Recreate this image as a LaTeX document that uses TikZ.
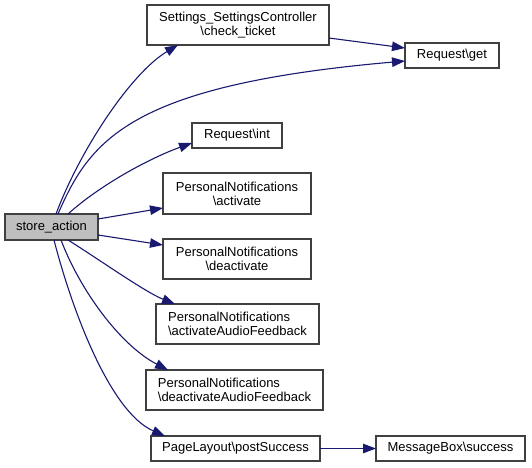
\documentclass[tikz,border=0pt]{standalone}
\usepackage{fontspec}
\setmainfont{Liberation Sans}
\usetikzlibrary{arrows.meta}
\definecolor{edgecol}{HTML}{191970}
\definecolor{boxline}{HTML}{404040}
\definecolor{rootfill}{HTML}{BFBFBF}
\begin{document}
\begin{tikzpicture}[x=1pt,y=1pt,
  box/.style={draw=boxline, line width=1.2pt, fill=white, inner sep=0pt, outer sep=0pt,
    font=\fontsize{13}{14.3}\selectfont, align=center},
  lbox/.style={box, align=left},
  edge/.style={draw=edgecol, line width=1.1pt, -{Triangle[length=13pt,width=9.5pt]}, fill=none},
]
\useasboundingbox (0,0) rectangle (532,-467);
\node[box, fill=rootfill, minimum width=93pt, minimum height=26pt] (store) at (51.5,-227) {store\_action};
\node[box, minimum width=182pt, minimum height=40pt] (settings) at (238,-25) {Settings\_SettingsController\\\textbackslash check\_ticket};
\node[box, minimum width=94pt, minimum height=25pt] (get) at (452,-55.5) {Request\textbackslash get};
\node[box, minimum width=90pt, minimum height=25pt] (int) at (237,-135.5) {Request\textbackslash int};
\node[box, minimum width=148pt, minimum height=41pt] (act) at (237,-193.5) {PersonalNotifications\\\textbackslash activate};
\node[box, minimum width=148pt, minimum height=40pt] (deact) at (237,-259) {PersonalNotifications\\\textbackslash deactivate};
\node[lbox, minimum width=163pt, minimum height=40pt] (actaudio) at (237.5,-324) {PersonalNotifications\\\textbackslash activateAudioFeedback};
\node[lbox, minimum width=177pt, minimum height=40pt] (deactaudio) at (234.5,-390) {PersonalNotifications\\\textbackslash deactivateAudioFeedback};
\node[box, minimum width=169pt, minimum height=25pt] (post) at (235.5,-448.5) {PageLayout\textbackslash postSuccess};
\node[box, minimum width=149pt, minimum height=25pt] (msg) at (450.5,-448.5) {MessageBox\textbackslash success};

\draw[edge] ([xshift=4.5pt]store.north) .. controls +(24,64) and +(-47,-28) .. ([xshift=-60pt]settings.south);
\draw[edge] ([xshift=6.5pt]store.north) .. controls +(32,74) and +(-275,-24) .. ([yshift=-5.5pt]get.west);
\draw[edge] ([xshift=16.5pt]store.north) .. controls +(32,29) and +(-42,-15) .. ([yshift=-7.5pt]int.west);
\draw[edge] ([yshift=8pt]store.east) -- ([yshift=-14.5pt]act.west);
\draw[edge] ([yshift=-8pt]store.east) -- ([yshift=14pt]deact.west);
\draw[edge] ([xshift=16.5pt]store.south) .. controls +(32,-20) and +(-30,12) .. ([xshift=-62.5pt]actaudio.north);
\draw[edge] ([xshift=9.5pt]store.south) .. controls +(19,-50) and +(-48,25) .. ([xshift=-66.5pt]deactaudio.north);
\draw[edge] ([xshift=2.5pt]store.south) .. controls +(18,-70) and +(-55,24) .. ([xshift=-70.5pt]post.north);
\draw[edge] ([yshift=-13pt]settings.east) -- ([yshift=7.5pt]get.west);
\draw[edge] (post.east) -- (msg.west);
\end{tikzpicture}
\end{document}
